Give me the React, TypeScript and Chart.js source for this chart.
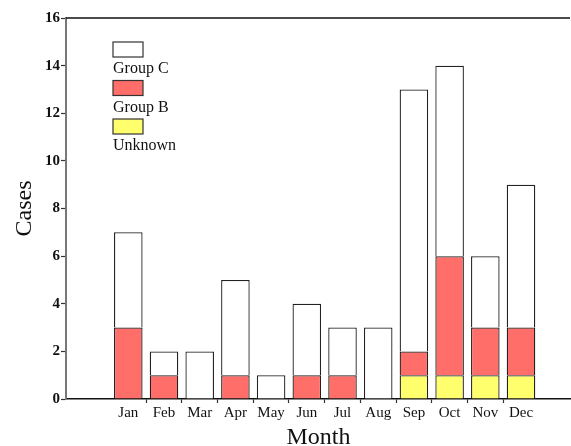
import React, { useEffect, useRef } from "react";
import { Chart, registerables } from "chart.js";

Chart.register(...registerables);

const months = ["Jan", "Feb", "Mar", "Apr", "May", "Jun", "Jul", "Aug", "Sep", "Oct", "Nov", "Dec"];
const unknownCases = [0, 0, 0, 0, 0, 0, 0, 0, 1, 1, 1, 1];
const groupBCases = [3, 1, 0, 1, 0, 1, 1, 0, 1, 5, 2, 2];
const groupCCases = [4, 1, 2, 4, 1, 3, 2, 3, 11, 8, 3, 6];
const yTicks = [0, 2, 4, 6, 8, 10, 12, 14, 16];

const SERIF = "'Liberation Serif', 'DejaVu Serif', serif";

const legendPlugin = {
  id: "stackLegend",
  afterDraw(chart: any) {
    const ctx = chart.ctx;
    const area = chart.chartArea;
    const x0 = area.left + 47;
    let y = area.top + 24;
    const ds = [...chart.data.datasets].reverse();
    ctx.save();
    ds.forEach((d: any) => {
      ctx.fillStyle = d.backgroundColor;
      ctx.fillRect(x0, y, 30, 15);
      ctx.lineWidth = 1.2;
      ctx.strokeStyle = "#333";
      ctx.strokeRect(x0, y, 30, 15);
      ctx.fillStyle = "#111";
      ctx.font = `16px ${SERIF}`;
      ctx.textBaseline = "alphabetic";
      ctx.textAlign = "left";
      ctx.fillText(d.label, x0, y + 31);
      y += 38.5;
    });
    ctx.beginPath();
    ctx.strokeStyle = "#111";
    ctx.lineWidth = 1.5;
    ctx.moveTo(area.left, area.top);
    ctx.lineTo(area.right - 1, area.top);
    ctx.stroke();
    ctx.restore();
  },
};

export default function App() {
  const ref = useRef<HTMLCanvasElement>(null);
  useEffect(() => {
    if (!ref.current) return;
    const toPts = (arr: number[]) => arr.map((v, i) => ({ x: i + 1, y: v }));
    const chart = new Chart(ref.current, {
      type: "bar",
      data: {
        datasets: [
          { label: "Unknown", data: toPts(unknownCases), backgroundColor: "#FFFF6E", borderColor: "#222", borderWidth: 1.3 },
          { label: "Group B", data: toPts(groupBCases), backgroundColor: "#FF6E68", borderColor: "#222", borderWidth: 1.3 },
          { label: "Group C", data: toPts(groupCCases), backgroundColor: "#FFFFFF", borderColor: "#222", borderWidth: 1.3 },
        ],
      } as any,
      options: {
        responsive: false,
        animation: false,
        devicePixelRatio: 1,
        layout: { padding: { top: 18, right: 0, left: 0, bottom: 0 } },
        datasets: { bar: { categoryPercentage: 1, barPercentage: 0.8 } } as any,
        plugins: { legend: { display: false }, tooltip: { enabled: false } },
        scales: {
          x: {
            type: "linear",
            stacked: true,
            offset: false,
            bounds: "data",
            min: -0.745,
            max: 13.4,
            afterBuildTicks: (scale: any) => {
              scale.ticks = months.map((_, i) => ({ value: i + 1.5 }));
            },
            afterFit: (scale: any) => {
              scale.height = 47;
              scale.paddingLeft = 0;
              scale.paddingRight = 0;
            },
            grid: {
              offset: false,
              drawOnChartArea: false,
              tickLength: 4,
              tickWidth: 1.2,
              tickColor: (c: any) => (c.index === months.length - 1 ? "rgba(0,0,0,0)" : "#333"),
            },
            border: { color: "#111", width: 1.5 },
            ticks: {
              autoSkip: false,
              maxRotation: 0,
              labelOffset: -17.85,
              padding: 1,
              color: "#111",
              font: { family: SERIF, size: 15 },
              callback: (_v: any, i: number) => months[i],
            },
            title: {
              display: true,
              text: "Month",
              color: "#111",
              font: { family: SERIF, size: 24, lineHeight: 0.7 },
              padding: { top: 0, bottom: 0 },
            },
          },
          y: {
            stacked: true,
            min: 0,
            max: 16,
            afterBuildTicks: (scale: any) => {
              scale.ticks = yTicks.map((v) => ({ value: v }));
            },
            afterFit: (scale: any) => {
              scale.width = 66;
            },
            grid: { drawOnChartArea: false, tickLength: 5, tickColor: "#333", tickWidth: 1.2 },
            border: { color: "#777", width: 2 },
            ticks: {
              padding: 1,
              color: "#111",
              font: { family: SERIF, size: 15, weight: "bold" },
            },
            title: {
              display: true,
              text: "Cases",
              color: "#111",
              font: { family: SERIF, size: 24 },
              padding: { top: 10, bottom: 0 },
            },
          },
        },
      } as any,
      plugins: [legendPlugin],
    });
    return () => chart.destroy();
  }, []);
  return (
    <div style={{ position: "fixed", left: 0, top: 0, width: 571, height: 446, background: "#fff" }}>
      <canvas ref={ref} width={571} height={446} />
    </div>
  );
}
